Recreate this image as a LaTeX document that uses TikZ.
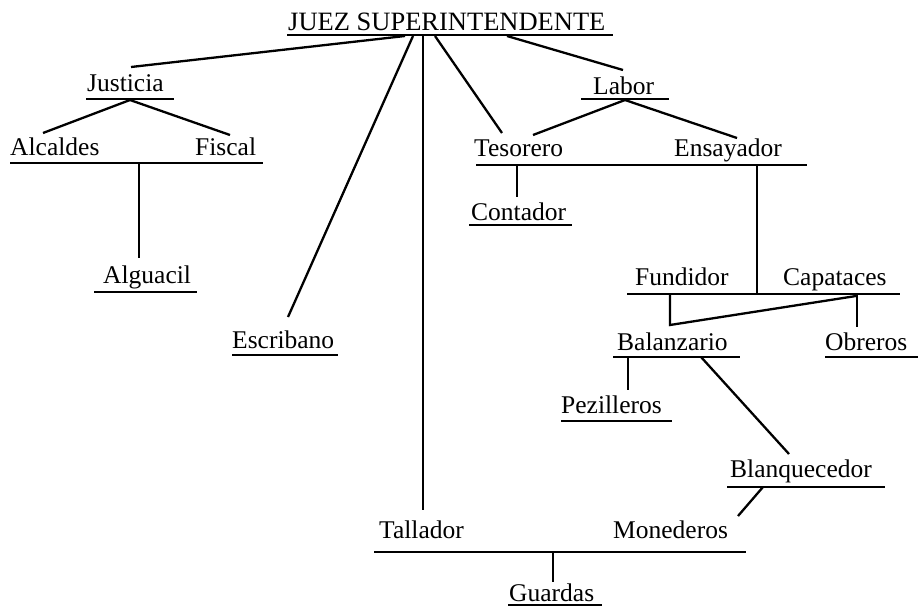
\documentclass[tikz,border=0pt]{standalone}
\usepackage{fontspec}
\setmainfont{Liberation Serif}
\begin{document}
\begin{tikzpicture}[x=1pt,y=-1pt,
    lbl/.style={anchor=base west,inner sep=0pt,font=\fontsize{25.5}{30}\selectfont},
    bar/.style={line width=2.4pt},
    link/.style={line width=2.3pt}]
    \useasboundingbox (0,0) rectangle (918,607);

    % Labels
    \node[lbl,font=\fontsize{26.5}{30}\selectfont] (juez) at (288,31) {JUEZ SUPERINTENDENTE};
    \node[lbl] (justicia) at (87,92) {Justicia};
    \node[lbl] (alcaldes) at (10,156) {Alcaldes};
    \node[lbl] (fiscal) at (195,156) {Fiscal};
    \node[lbl] (alguacil) at (103,283) {Alguacil};
    \node[lbl] (escribano) at (232,348) {Escribano};
    \node[lbl] (tallador) at (379,538) {Tallador};
    \node[lbl] (monederos) at (613,538) {Monederos};
    \node[lbl] (guardas) at (509,601) {Guardas};
    \node[lbl] (labor) at (593,95) {Labor};
    \node[lbl] (tesorero) at (474,157) {Tesorero};
    \node[lbl] (ensayador) at (674,157) {Ensayador};
    \node[lbl] (contador) at (471,220) {Contador};
    \node[lbl] (fundidor) at (635,285) {Fundidor};
    \node[lbl] (capataces) at (783,285) {Capataces};
    \node[lbl] (balanzario) at (617,350) {Balanzario};
    \node[lbl] (obreros) at (825,350) {Obreros};
    \node[lbl] (pezilleros) at (561,413) {Pezilleros};
    \node[lbl] (blanquecedor) at (730,477) {Blanquecedor};

    % Underlines
    \draw[bar] (287,35) -- (613,35);
    \draw[bar] (86,99) -- (174,99);
    \draw[bar] (10,163) -- (263,163);
    \draw[bar] (94,292) -- (197,292);
    \draw[bar] (232,355) -- (338,355);
    \draw[bar] (374,552) -- (746,552);
    \draw[bar] (508,605) -- (602,605);
    \draw[bar] (581,99) -- (669,99);
    \draw[bar] (476,165) -- (807,165);
    \draw[bar] (469,225) -- (572,225);
    \draw[bar] (627,294) -- (900,294);
    \draw[bar] (613,357) -- (740,357);
    \draw[bar] (825,357) -- (918,357);
    \draw[bar] (561,421) -- (672,421);
    \draw[bar] (727,487) -- (885,487);

    % Connection points
    \coordinate (juez-a) at (405,36);
    \coordinate (juez-b) at (413,36);
    \coordinate (juez-c) at (423,36);
    \coordinate (juez-d) at (435,36);
    \coordinate (juez-e) at (507,36);
    \coordinate (justicia-in) at (131,67);
    \coordinate (justicia-out) at (130,100);
    \coordinate (alcaldes-in) at (43,133);
    \coordinate (fiscal-in) at (230,135);
    \coordinate (fiscal-out) at (139,163);
    \coordinate (alguacil-in) at (139,258);
    \coordinate (escribano-in) at (288,317);
    \coordinate (tallador-in) at (423,510);
    \coordinate (tesorero-in) at (502,133);
    \coordinate (labor-in) at (623,70);
    \coordinate (labor-out) at (625,100);
    \coordinate (tesorero-in2) at (533,135);
    \coordinate (ensayador-in) at (737,138);
    \coordinate (tesorero-out) at (517,165);
    \coordinate (contador-in) at (517,197);
    \coordinate (ensayador-out) at (757,165);
    \coordinate (fundidor-in) at (757,294);
    \coordinate (fundidor-out) at (670,294);
    \coordinate (balanzario-in) at (670,325);
    \coordinate (capataces-out) at (856,296);
    \coordinate (capataces-out2) at (857,294);
    \coordinate (obreros-in) at (857,327);
    \coordinate (balanzario-out) at (628,357);
    \coordinate (pezilleros-in) at (628,390);
    \coordinate (balanzario-out2) at (701,357);
    \coordinate (blanquecedor-in) at (789,454);
    \coordinate (blanquecedor-out) at (763,487);
    \coordinate (monederos-in) at (738,516);
    \coordinate (tallador-out) at (553,552);
    \coordinate (guardas-in) at (553,582);

    % Connectors
    \draw[link] (juez-a) -- (justicia-in);
    \draw[link] (juez-b) -- (escribano-in);
    \draw[link] (juez-c) -- (tallador-in);
    \draw[link] (juez-d) -- (tesorero-in);
    \draw[link] (juez-e) -- (labor-in);
    \draw[link] (justicia-out) -- (alcaldes-in);
    \draw[link] (justicia-out) -- (fiscal-in);
    \draw[link] (fiscal-out) -- (alguacil-in);
    \draw[link] (labor-out) -- (tesorero-in2);
    \draw[link] (labor-out) -- (ensayador-in);
    \draw[link] (tesorero-out) -- (contador-in);
    \draw[link] (ensayador-out) -- (fundidor-in);
    \draw[link] (fundidor-out) -- (balanzario-in) -- (capataces-out);
    \draw[link] (capataces-out2) -- (obreros-in);
    \draw[link] (balanzario-out) -- (pezilleros-in);
    \draw[link] (balanzario-out2) -- (blanquecedor-in);
    \draw[link] (blanquecedor-out) -- (monederos-in);
    \draw[link] (tallador-out) -- (guardas-in);

\end{tikzpicture}
\end{document}
